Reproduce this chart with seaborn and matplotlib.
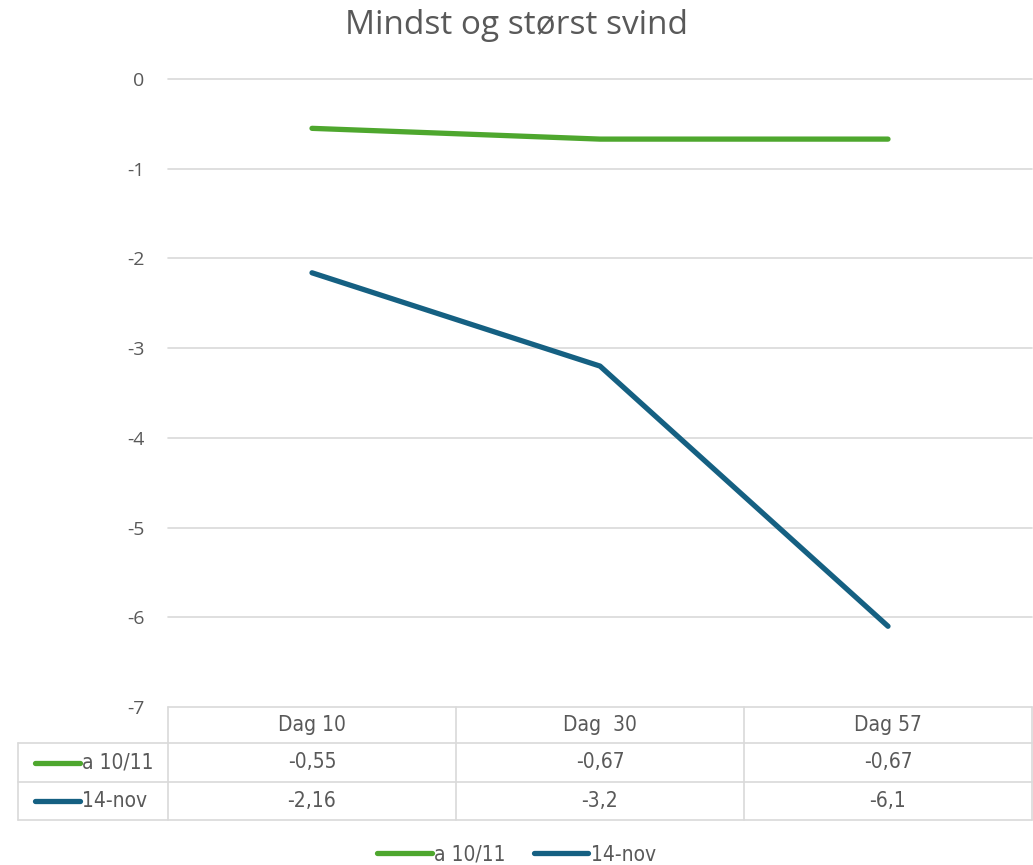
import pandas as pd
import matplotlib
matplotlib.use("Agg")
import matplotlib.pyplot as plt
import matplotlib.transforms as mtransforms
from matplotlib.lines import Line2D
import seaborn as sns

# Data
days = ["Dag 10", "Dag  30", "Dag 57"]
series_names = ["a 10/11", "14-nov"]
min_svind = [-0.55, -0.67, -0.67]
max_svind = [-2.16, -3.2, -6.1]
table_text = [["-0,55", "-0,67", "-0,67"], ["-2,16", "-3,2", "-6,1"]]
colors = ["#4EA72E", "#156082"]
yticks = [0, -1, -2, -3, -4, -5, -6, -7]

df = pd.DataFrame({
    "x": list(range(len(days))) * 2,
    "value": min_svind + max_svind,
    "serie": [series_names[0]] * 3 + [series_names[1]] * 3,
})

sns.set_style("white")
plt.rcParams["font.family"] = ["Open Sans", "DejaVu Sans"]
text_grey = "#595959"
grid_grey = "#d9d9d9"
narrow = dict(family="DejaVu Sans", stretch="condensed")

fig = plt.figure(figsize=(10.33, 8.65), dpi=100)
ax = fig.add_axes([168 / 1033, 158 / 865, 864 / 1033, 628 / 865])

sns.lineplot(data=df, x="x", y="value", hue="serie", palette=colors,
             linewidth=3.8, ax=ax, legend=False, solid_capstyle="round")

ax.set_xlim(-0.5, 2.5)
ax.set_ylim(-7, 0)
ax.set_yticks(yticks)
ax.set_yticklabels([str(v) for v in yticks])
ax.set_xticks([])
ax.set_xlabel("")
ax.set_ylabel("")
for v in yticks[:-1]:
    ax.axhline(v, color=grid_grey, linewidth=1.2, zorder=0, clip_on=False)
for s in ax.spines.values():
    s.set_visible(False)
ax.tick_params(axis="y", length=0, pad=17, labelsize=14, labelcolor=text_grey)

fig.text(0.5, 0.971, "Mindst og størst svind", ha="center", va="center",
         fontsize=24, color=text_grey)

# Data table under the plot
tr = mtransforms.blended_transform_factory(ax.transData, ax.transAxes)
h = 628.0
y_top = 0.0
y_head = -36 / h
y_r1 = -75 / h
y_r2 = -113 / h
x_left = -0.5 - 150 / 288
lw = 1.2

def hline(x0, x1, y):
    ax.add_line(Line2D([x0, x1], [y, y], transform=tr, color=grid_grey,
                       linewidth=lw, clip_on=False))

def vline(x, y0, y1):
    ax.add_line(Line2D([x, x], [y0, y1], transform=tr, color=grid_grey,
                       linewidth=lw, clip_on=False))

hline(-0.5, 2.5, y_top)
hline(x_left, 2.5, y_head)
hline(x_left, 2.5, y_r1)
hline(x_left, 2.5, y_r2)
for xb in [-0.5, 0.5, 1.5, 2.5]:
    vline(xb, y_top, y_r2)
vline(x_left, y_head, y_r2)

for i, d in enumerate(days):
    ax.text(i, (y_top + y_head) / 2, d, transform=tr, ha="center", va="center",
            fontsize=15, color=text_grey, **narrow)

row_mid = [(y_head + y_r1) / 2, (y_r1 + y_r2) / 2]
for r in range(2):
    ax.add_line(Line2D([-0.962, -0.806], [row_mid[r], row_mid[r]], transform=tr,
                       color=colors[r], linewidth=3.8, solid_capstyle="round",
                       clip_on=False))
    ax.text(-0.80, row_mid[r], series_names[r], transform=tr, ha="left",
            va="center", fontsize=15, color=text_grey, **narrow)
    for i in range(3):
        ax.text(i, row_mid[r], table_text[r][i], transform=tr, ha="center",
                va="center", fontsize=15, color=text_grey, **narrow)

# Legend at the bottom
handles = [Line2D([0], [0], color=c, linewidth=3.8, solid_capstyle="round")
           for c in colors]
leg = fig.legend(handles, series_names, loc="center", bbox_to_anchor=(0.5, 0.012),
                 ncol=2, frameon=False, handlelength=2.6, handletextpad=0.1,
                 columnspacing=1.4, prop={"family": "DejaVu Sans",
                                          "stretch": "condensed", "size": 15})
for t in leg.get_texts():
    t.set_color(text_grey)

fig.savefig("out.png", dpi=100)
